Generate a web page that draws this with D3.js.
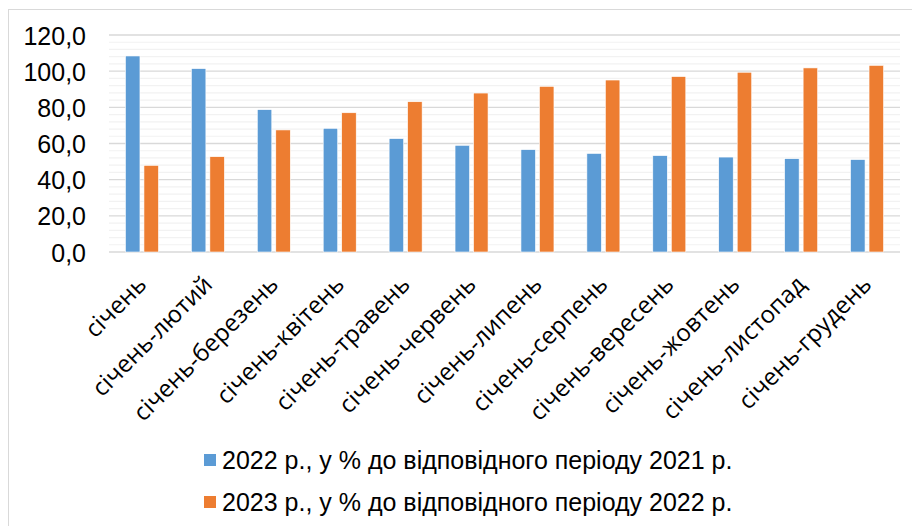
<!DOCTYPE html>
<html>
<head>
<meta charset="utf-8">
<script src="https://cdn.jsdelivr.net/npm/d3@7"></script>
<style>
  body { margin: 0; background: #fff; }
</style>
</head>
<body>
<script>
const categories = ["січень", "січень-лютий", "січень-березень", "січень-квітень", "січень-травень",
    "січень-червень", "січень-липень", "січень-серпень", "січень-вересень", "січень-жовтень",
    "січень-листопад", "січень-грудень"];
const series2022 = [108.4, 101.4, 78.7, 68.4, 62.7, 59.0, 56.6, 54.5, 53.3, 52.5, 51.6, 51.1];
const series2023 = [47.9, 52.7, 67.5, 77.0, 83.1, 87.9, 91.6, 95.1, 97.0, 99.4, 101.8, 103.2];
const seriesNames = ["2022 р., у % до відповідного періоду 2021 р.", "2023 р., у % до відповідного періоду 2022 р."];
const yTicks = [0, 20, 40, 60, 80, 100, 120];

function main() {
    const canvasWidth = 912;
    const canvasHeight = 526;
    const colors = ["#5b9bd5", "#ed7d31"];

    const svg = d3.select("body").append("svg")
        .attr("width", canvasWidth)
        .attr("height", canvasHeight)

    // chart frame (right and bottom edges fall outside the picture)
    svg.append("rect")
        .attr("x", 8.5).attr("y", 9.5)
        .attr("width", 920).attr("height", 530)
        .attr("fill", "none")
        .attr("stroke", "#d9d9d9")

    const left = 109, right = 900, top = 35, bottom = 252;

    const x = d3.scaleBand().domain(categories).range([left, right]);
    const y = d3.scaleLinear().domain([0, 120]).range([bottom, top]);

    // minor grid
    svg.append("g")
        .selectAll("line")
        .data(d3.range(0, 121, 4).filter(d => d % 20 != 0))
        .enter()
        .append("line")
        .attr("x1", left).attr("x2", right)
        .attr("y1", d => y(d)).attr("y2", d => y(d))
        .attr("stroke", "#f2f2f2")
        .attr("stroke-width", 1.2)

    // major grid
    svg.append("g")
        .selectAll("line")
        .data(yTicks)
        .enter()
        .append("line")
        .attr("x1", left).attr("x2", right)
        .attr("y1", d => y(d)).attr("y2", d => y(d))
        .attr("stroke", "#d9d9d9")
        .attr("stroke-width", 1.3)

    // y labels
    const yAxis = svg.append("g")
        .attr("transform", "translate(86,0)")
        .call(d3.axisLeft(y).tickValues(yTicks).tickSize(0).tickPadding(0)
            .tickFormat(d => d3.format(".1f")(d).replace(".", ",")))
    yAxis.select(".domain").remove()
    yAxis.selectAll("text")
        .attr("font-family", "Liberation Sans, Arial, sans-serif")
        .attr("font-size", 25)
        .attr("fill", "#000")
        .attr("dy", "0.36em")

    const barW = 14.5, gap = 4;
    const bandMid = d => x(d) + x.bandwidth() / 2;

    [series2022, series2023].forEach((vals, si) => {
        svg.append("g")
            .selectAll("rect")
            .data(vals)
            .enter()
            .append("rect")
            .attr("x", (d, i) => si == 0 ? bandMid(categories[i]) - gap / 2 - barW : bandMid(categories[i]) + gap / 2)
            .attr("y", d => y(d))
            .attr("width", barW)
            .attr("height", d => y(0) - y(d))
            .attr("fill", colors[si])
            .attr("stroke", "#fff")
            .attr("stroke-width", 0.6)
    })

    // category labels
    svg.append("g")
        .selectAll("text")
        .data(categories)
        .enter()
        .append("text")
        .attr("transform", d => "translate(" + (bandMid(d) + 6) + "," + 286 + ") rotate(-45)")
        .attr("text-anchor", "end")
        .attr("font-family", "Open Sans, sans-serif")
        .attr("font-size", 24)
        .attr("fill", "#000")
        .text(d => d)

    // legend
    const legend = svg.append("g")
    seriesNames.forEach((name, i) => {
        const ly = 460 + i * 42;
        legend.append("rect")
            .attr("x", 204).attr("y", ly - 6)
            .attr("width", 12).attr("height", 12)
            .attr("fill", colors[i])
        legend.append("text")
            .attr("x", 222).attr("y", ly)
            .attr("dy", "0.36em")
            .attr("font-family", "Liberation Sans, Arial, sans-serif")
            .attr("font-size", 25)
            .attr("fill", "#000")
            .text(name)
    })
}
main();
</script>
</body>
</html>
